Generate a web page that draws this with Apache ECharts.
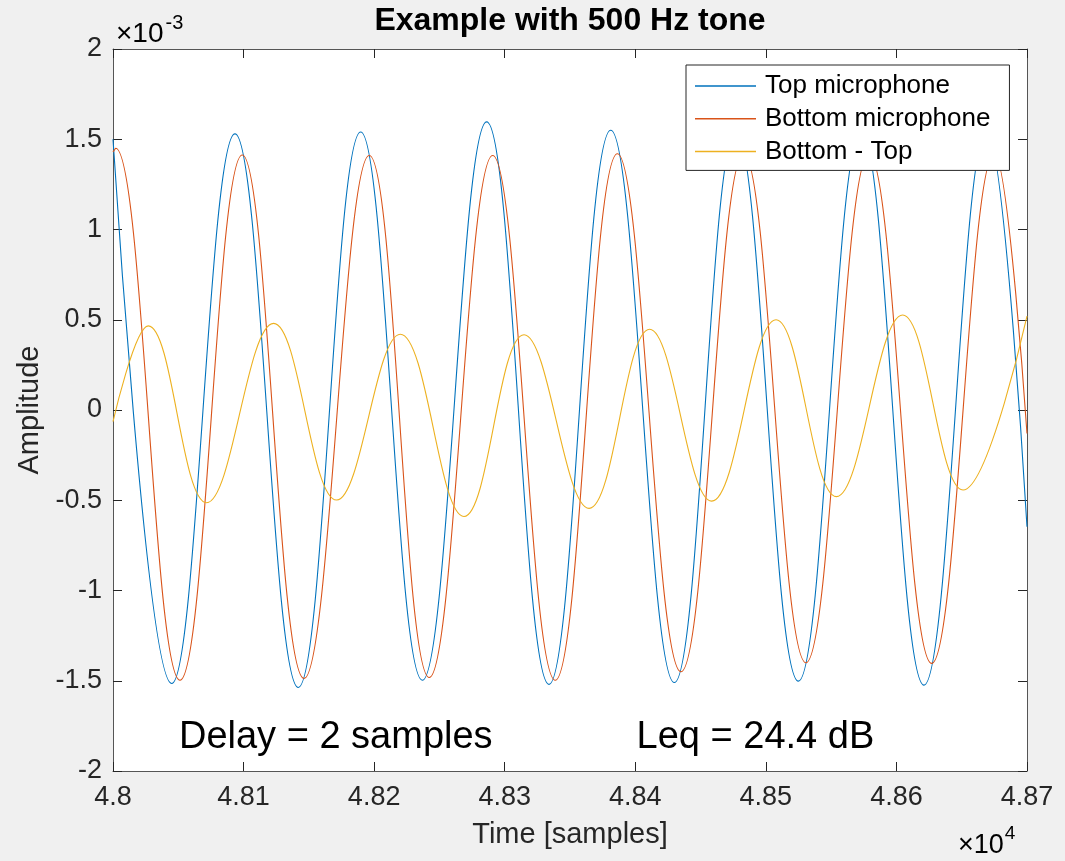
<!DOCTYPE html>
<html>
<head>
<meta charset="utf-8">
<script src="https://cdn.jsdelivr.net/npm/echarts@6/dist/echarts.min.js"></script>
<style>
  html, body { margin: 0; padding: 0; background: #f0f0f0; }
  #chart { width: 1065px; height: 861px; }
</style>
</head>
<body>
<div id="chart"></div>
<script>
// Values in units of 1e-3 (as shown with the "×10^-3" axis multiplier), x in samples.
const topMic = [
  [48000, 1.50], [48045, -1.515], [48093.4, 1.53], [48141.9, -1.537], [48189.7, 1.54],
  [48236.9, -1.497], [48286.2, 1.596], [48333.9, -1.52], [48381.2, 1.55], [48429.9, -1.51],
  [48477, 1.55], [48524.9, -1.502], [48573, 1.55], [48621.1, -1.524], [48669, 1.55],
  [48700, -0.647]
];
const bottomMic = [
  [48000, 1.43], [48002, 1.45], [48051.3, -1.497], [48099, 1.413], [48146.3, -1.487],
  [48196.3, 1.41], [48242.2, -1.482], [48290.8, 1.41], [48338.7, -1.497], [48386.3, 1.42],
  [48435, -1.45], [48483, 1.42], [48530.7, -1.40], [48579, 1.42], [48627, -1.404],
  [48675, 1.42], [48700, -0.13]
];
const diffBT = [
  [48000, -0.065], [48027, 0.466], [48071.7, -0.514], [48123, 0.48], [48171.3, -0.499],
  [48220, 0.42], [48268.8, -0.59], [48314.8, 0.417], [48364.6, -0.545], [48411, 0.447],
  [48458.5, -0.505], [48507.8, 0.50], [48554, -0.48], [48604.8, 0.526], [48651, -0.443],
  [48700, 0.52]
];
const seriesNames = ['Top microphone', 'Bottom microphone', 'Bottom - Top'];
const seriesColors = ['#0072BD', '#D95319', '#EDB120'];
const annotations = [
  { text: 'Delay = 2 samples', coord: [48050.5, -1.815] },
  { text: 'Leq = 24.4 dB', coord: [48401, -1.815] }
];
const xRange = [48000, 48700, 100];
const yRange = [-2, 2, 0.5];

const FONT = 'Liberation Sans, Arial, Helvetica, sans-serif';
const AX = '#262626';
const chart = echarts.init(document.getElementById('chart'), null, { renderer: 'canvas' });

function xFmt(v) { return String(parseFloat((v / 1e4).toFixed(4))); }
function yFmt(v) { return String(parseFloat(v.toFixed(3))); }

function axisCommon() {
  return {
    axisLine: { show: true, onZero: false, lineStyle: { color: '#555555', width: 1 } },
    axisTick: { show: true, inside: true, length: 9, lineStyle: { color: AX, width: 1 } },
    splitLine: { show: false }
  };
}

const option = {
  backgroundColor: '#f0f0f0',
  animation: false,
  title: {
    text: 'Example with 500 Hz tone',
    left: 570, top: 5, textAlign: 'center', padding: 0,
    textStyle: { fontFamily: FONT, fontWeight: 'bold', fontSize: 32, color: '#000' }
  },
  legend: {
    orient: 'vertical', left: 686, top: 65,
    data: seriesNames,
    selectedMode: false,
    icon: 'rect',
    backgroundColor: '#ffffff', borderColor: AX, borderWidth: 1,
    padding: [8, 19, 6, 9],
    itemWidth: 61, itemHeight: 1.5, itemGap: 6.7,
    textStyle: { fontFamily: FONT, fontSize: 26, color: '#000', padding: [0, 0, 0, 4] }
  },
  grid: { left: 113, right: 38, top: 49, bottom: 90, show: true, backgroundColor: '#ffffff', borderWidth: 0 },
  xAxis: [
    Object.assign(axisCommon(), {
      type: 'value', position: 'bottom', min: xRange[0], max: xRange[1], interval: xRange[2],
      name: 'Time [samples]', nameLocation: 'middle', nameGap: 49,
      nameTextStyle: { fontFamily: FONT, fontSize: 29, color: AX },
      axisLabel: { formatter: xFmt, fontFamily: FONT, fontSize: 27, color: AX, margin: 13, showMinLabel: true, showMaxLabel: true }
    }),
    Object.assign(axisCommon(), {
      type: 'value', position: 'top', min: xRange[0], max: xRange[1], interval: xRange[2],
      axisLabel: { show: false }
    })
  ],
  yAxis: [
    Object.assign(axisCommon(), {
      type: 'value', position: 'left', min: yRange[0], max: yRange[1], interval: yRange[2],
      name: 'Amplitude', nameLocation: 'middle', nameGap: 68,
      nameTextStyle: { fontFamily: FONT, fontSize: 29, color: AX },
      axisLabel: { formatter: yFmt, fontFamily: FONT, fontSize: 27, color: AX, margin: 11, showMinLabel: true, showMaxLabel: true }
    }),
    Object.assign(axisCommon(), {
      type: 'value', position: 'right', min: yRange[0], max: yRange[1], interval: yRange[2],
      axisLabel: { show: false }
    })
  ],
  graphic: [
    {
      type: 'text', left: 116, top: 13, silent: true,
      style: {
        text: '{a|×10}{b|-3}',
        rich: {
          a: { fontFamily: FONT, fontSize: 28, color: AX, lineHeight: 35, verticalAlign: 'bottom' },
          b: { fontFamily: FONT, fontSize: 20, color: AX, lineHeight: 35, verticalAlign: 'top', padding: [0, 0, 0, 2] }
        }
      }
    },
    {
      type: 'text', left: 958, top: 824, silent: true,
      style: {
        text: '{a|×10}{b|4}',
        rich: {
          a: { fontFamily: FONT, fontSize: 27, color: AX, lineHeight: 35, verticalAlign: 'bottom' },
          b: { fontFamily: FONT, fontSize: 19, color: AX, lineHeight: 35, verticalAlign: 'top', padding: [0, 0, 0, 1] }
        }
      }
    }
  ],
  series: [topMic, bottomMic, diffBT].map((d, i) => ({
    name: seriesNames[i],
    type: 'line',
    xAxisIndex: 0, yAxisIndex: 0,
    data: d,
    symbol: 'none',
    smooth: 0.4,
    clip: true,
    lineStyle: { color: seriesColors[i], width: 1.1 },
    itemStyle: { color: seriesColors[i] },
    emphasis: { disabled: true },
    markPoint: i === 0 ? {
      symbol: 'circle', symbolSize: 0, silent: true,
      label: {
        show: true, position: 'right', distance: 0,
        fontFamily: FONT, fontSize: 38, color: '#000',
        formatter: p => p.name
      },
      data: annotations.map(a => ({ name: a.text, coord: a.coord }))
    } : undefined
  }))
};
chart.setOption(option);
</script>
</body>
</html>
